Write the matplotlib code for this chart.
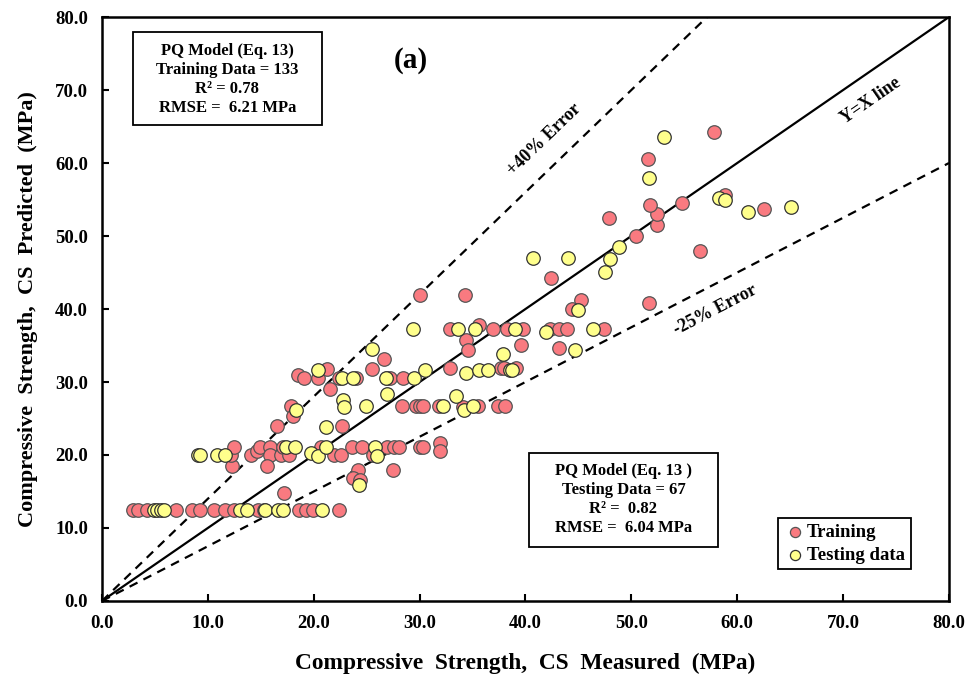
import numpy as np
import matplotlib
matplotlib.use("Agg")
import matplotlib.pyplot as plt
from matplotlib.patches import Rectangle
from matplotlib.ticker import FormatStrFormatter

plt.rcParams['font.family'] = ['Liberation Serif', 'DejaVu Serif']
plt.rcParams['font.weight'] = 'bold'

# Training data (measured, predicted), MPa
train_x = [2.9, 3.4, 4.3, 7.0, 8.5, 9.3, 10.6, 11.6, 12.5, 14.7, 15.3, 18.6, 19.3, 19.9, 22.4, 17.2,
           12.3, 12.2, 12.5, 14.1, 14.6, 14.9, 15.9, 15.9, 15.6, 16.9, 17.1, 17.7, 20.7, 21.9, 22.6,
           23.6, 24.6, 25.6, 26.9, 27.6, 28.1, 30.0, 30.3, 31.9, 31.9, 24.2, 23.7, 24.4, 27.5,
           16.5, 17.85, 18.0, 22.7, 28.3, 29.7, 30.0, 30.3, 31.8, 34.1, 35.5, 37.4, 38.1,
           18.5, 19.05, 20.4, 21.3, 21.5, 22.4, 24.0, 25.5, 26.6, 26.9, 27.2, 28.4, 32.9, 37.7, 38.0, 39.1,
           32.9, 35.6, 36.9, 38.3, 39.8, 42.3, 43.2, 43.9, 47.4, 34.4, 34.6, 39.6, 43.2,
           30.0, 34.3, 42.4, 45.2, 44.4, 51.7, 47.9, 50.4, 52.4, 52.4, 51.8, 54.8, 58.8, 56.5,
           51.6, 57.8, 62.5]
train_y = [12.4, 12.4, 12.4, 12.4, 12.4, 12.4, 12.4, 12.4, 12.4, 12.4, 12.4, 12.4, 12.4, 12.4, 12.4, 14.8,
           18.5, 20.0, 21.1, 20.0, 20.5, 21.1, 21.1, 20.0, 18.5, 20.0, 21.1, 20.0, 21.1, 20.0, 20.0,
           21.1, 21.1, 20.0, 21.1, 21.1, 21.1, 21.1, 21.1, 21.6, 20.5, 18.0, 16.8, 16.6, 17.9,
           24.0, 26.7, 25.3, 24.0, 26.7, 26.7, 26.7, 26.7, 26.7, 26.6, 26.7, 26.7, 26.7,
           30.9, 30.6, 30.5, 31.8, 29.1, 30.6, 30.6, 31.8, 33.2, 30.6, 30.6, 30.6, 31.9, 31.9, 31.9, 31.9,
           37.3, 37.8, 37.3, 37.3, 37.3, 37.3, 37.3, 37.3, 37.3, 35.75, 34.4, 35.1, 34.7,
           41.9, 41.9, 44.3, 41.2, 40.0, 40.8, 52.5, 50.0, 51.5, 53.0, 54.2, 54.5, 55.6, 47.9,
           60.5, 64.2, 53.7]

# Testing data
test_x = [4.9, 5.2, 5.6, 5.9, 13.0, 13.7, 15.4, 16.6, 17.1, 20.8,
          9.1, 9.3, 10.9, 11.6, 17.4, 18.2, 19.7, 20.4, 21.2, 25.8, 26.0, 24.3,
          18.3, 21.2, 22.8, 22.9, 24.9, 26.9, 32.2, 33.4, 34.2, 35.0,
          20.4, 22.7, 23.7, 25.5, 26.8, 29.5, 30.5, 34.4, 35.6, 36.5, 37.9, 38.5, 38.75,
          29.4, 33.6, 35.2, 39.0, 41.9, 46.4, 44.7, 45.0,
          40.7, 44.0, 47.5, 48.0, 48.8, 51.7, 53.1, 58.3, 58.8, 61.0, 65.1]
test_y = [12.4, 12.4, 12.4, 12.4, 12.4, 12.4, 12.4, 12.4, 12.4, 12.4,
          20.0, 20.0, 20.0, 20.0, 21.1, 21.1, 20.3, 19.9, 21.1, 21.1, 19.9, 15.9,
          26.2, 23.9, 27.6, 26.6, 26.7, 28.4, 26.7, 28.1, 26.2, 26.7,
          31.7, 30.6, 30.6, 34.5, 30.6, 30.6, 31.7, 31.3, 31.7, 31.7, 33.8, 31.7, 31.7,
          37.3, 37.3, 37.3, 37.3, 36.8, 37.3, 34.4, 39.8,
          47.0, 47.0, 45.1, 46.9, 48.5, 58.0, 63.5, 55.2, 54.9, 53.3, 54.0]

ticks = [0, 10, 20, 30, 40, 50, 60, 70, 80]


def main():
    fig = plt.figure(figsize=(9.73, 6.79), dpi=100)
    ax = fig.add_axes([0.1048, 0.1149, 0.8705, 0.860])

    xl = np.array([0, 80])
    ax.plot(xl, xl, color='black', lw=1.6, zorder=2)
    ax.plot(xl, 1.4 * xl, color='black', lw=1.6, ls=(0, (4, 3)), zorder=2)
    ax.plot(xl, 0.75 * xl, color='black', lw=1.6, ls=(0, (4, 3)), zorder=2)

    ax.scatter(train_x, train_y, s=95, c='#F97A80', edgecolors='#555555', linewidths=0.9,
               label='Training', zorder=3)
    ax.scatter(test_x, test_y, s=95, c='#FFFF8C', edgecolors='#333333', linewidths=0.9,
               label='Testing data', zorder=4)

    ax.set_xlim(0, 80)
    ax.set_ylim(0, 80)
    ax.set_xticks(ticks)
    ax.set_yticks(ticks)
    ax.xaxis.set_major_formatter(FormatStrFormatter('%.1f'))
    ax.yaxis.set_major_formatter(FormatStrFormatter('%.1f'))
    ax.tick_params(direction='in', length=5, width=1.5, labelsize=13.5, pad=10)
    for sp in ax.spines.values():
        sp.set_linewidth(1.8)

    ax.set_xlabel('Compressive  Strength,  CS  Measured  (MPa)', fontsize=16.8,
                  fontweight='bold', labelpad=15)
    ax.set_ylabel('Compressive  Strength,  CS  Predicted  (MPa)', fontsize=16,
                  fontweight='bold', labelpad=12)

    # annotations
    ax.text(41.8, 63.2, '+40% Error', rotation=44, fontsize=13, fontweight='bold',
            ha='center', va='center')
    ax.text(72.6, 68.6, 'Y=X line', rotation=34.6, fontsize=13, fontweight='bold',
            ha='center', va='center')
    ax.text(57.9, 39.9, '-25% Error', rotation=27.4, fontsize=13, fontweight='bold',
            ha='center', va='center')
    ax.text(29.2, 74.1, '(a)', fontsize=21, fontweight='bold', ha='center', va='center')

    # statistics boxes
    ax.add_patch(Rectangle((2.93, 65.2), 17.87, 12.7, facecolor='white', edgecolor='black',
                           lw=1.3, zorder=5))
    ax.text(11.85, 71.4, 'PQ Model (Eq. 13)\nTraining Data = 133\nR² = 0.78\nRMSE =  6.21 MPa',
            fontsize=12, fontweight='bold', ha='center', va='center', linespacing=1.25, zorder=6)
    ax.add_patch(Rectangle((40.3, 7.4), 17.9, 12.9, facecolor='white', edgecolor='black',
                           lw=1.3, zorder=5))
    ax.text(49.25, 13.85, 'PQ Model (Eq. 13 )\nTesting Data = 67\nR² =  0.82\nRMSE =  6.04 MPa',
            fontsize=12, fontweight='bold', ha='center', va='center', linespacing=1.25, zorder=6)

    leg = ax.legend(loc='upper left', bbox_to_anchor=(0.798, 0.142), borderaxespad=0,
                    fontsize=13.5, frameon=True, fancybox=False, edgecolor='black',
                    handletextpad=0.05, handlelength=1.2, borderpad=0.3, labelspacing=0.3,
                    markerscale=0.75, framealpha=1)
    leg.get_frame().set_linewidth(1.3)

    fig.savefig('out.png', dpi=100)


if __name__ == '__main__':
    main()
